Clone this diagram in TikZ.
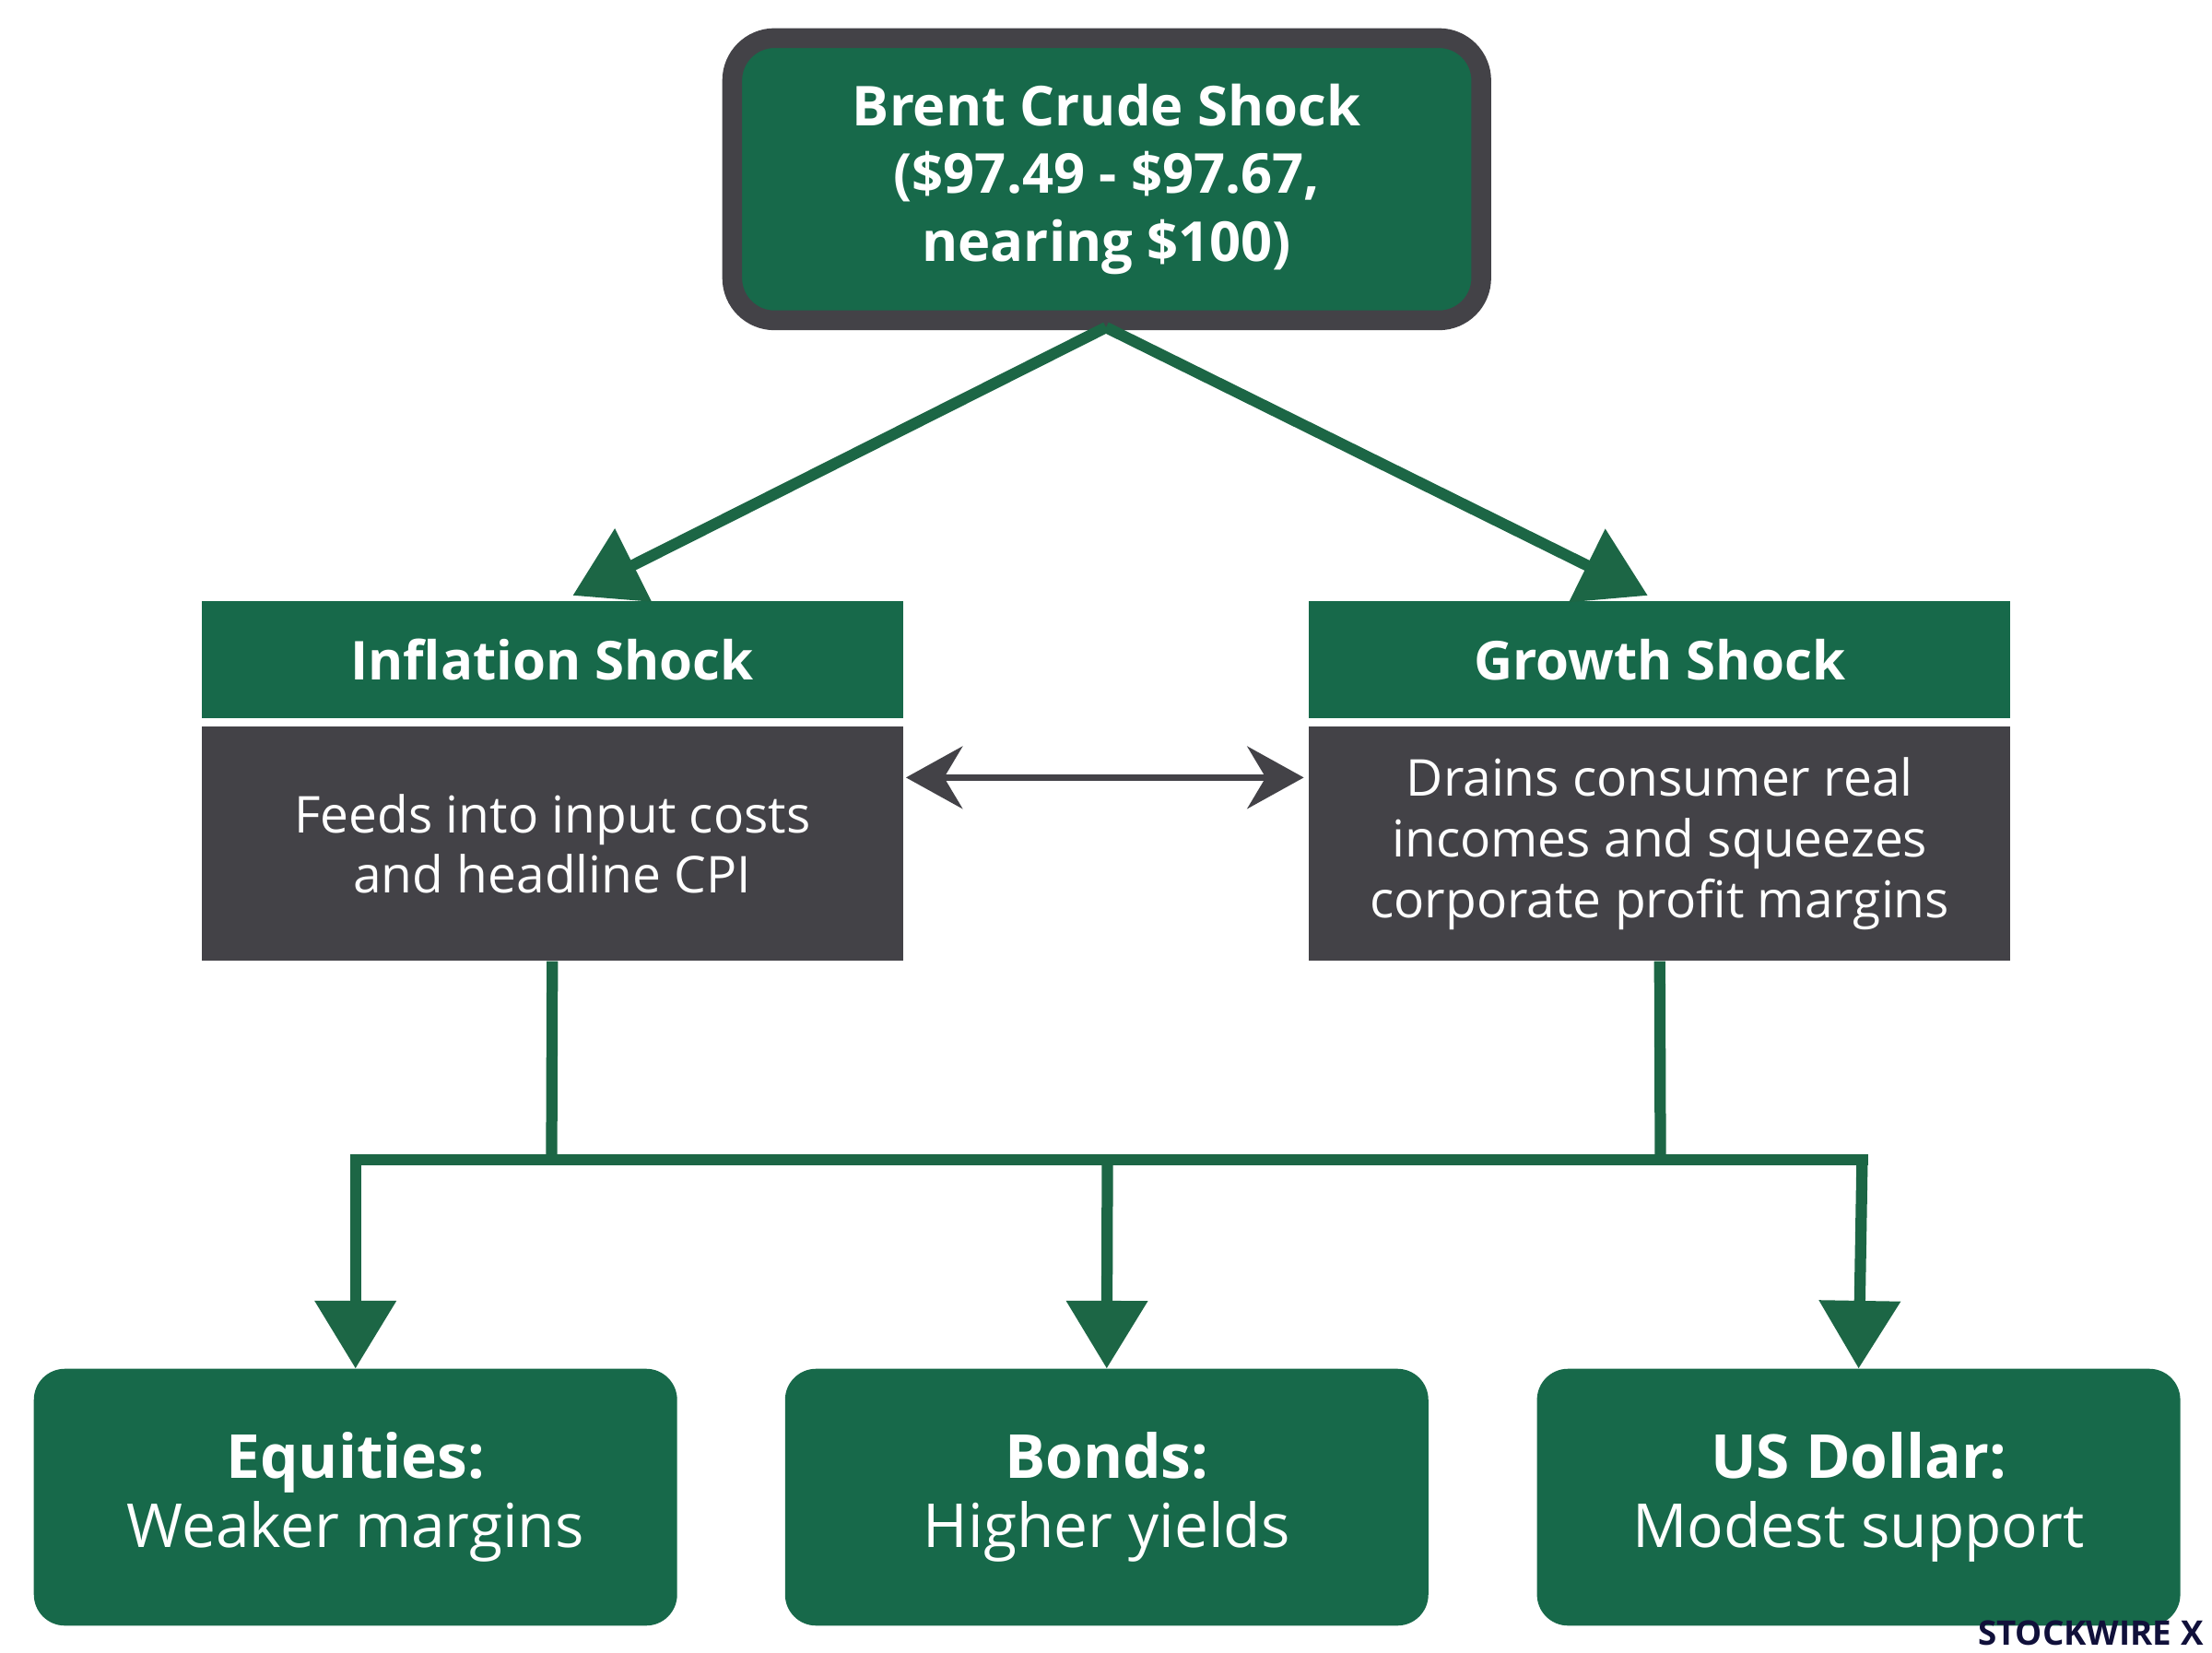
\documentclass[tikz,border=0pt]{standalone}
\usepackage{fontspec}
\setmainfont{Open Sans}
\usetikzlibrary{arrows.meta}
\definecolor{gr}{HTML}{17694A}
\definecolor{ag}{HTML}{1C6645}
\definecolor{dg}{HTML}{434247}
\begin{document}
\begin{tikzpicture}[x=1pt,y=-1pt,
 hdr/.style={fill=gr,text=white,font=\fontsize{38}{44}\selectfont\bfseries,align=center,inner sep=0},
 body/.style={fill=dg,text=white,font=\fontsize{36}{43}\selectfont,align=center,inner sep=0},
 bot/.style={fill=gr,rounded corners=22pt,text=white,align=center,inner sep=0,font=\fontsize{43}{51}\selectfont},
 garr/.style={draw=ag,line width=8pt,-{Triangle[length=48pt,width=56pt]}},
 gl/.style={draw=ag,line width=8pt}]
\useasboundingbox[fill=white] (0,0) rectangle (1568,1171);
\node[draw=dg,line width=14pt,fill=gr,rounded corners=30pt,minimum width=531pt,minimum height=200pt,
 text=white,font=\fontsize{39}{48}\selectfont\bfseries,align=center,inner sep=0] (top) at (784.5,127)
 {Brent Crude Shock\\(\$97.49 - \$97.67,\\nearing \$100)};
\node[hdr,minimum width=497pt,minimum height=83pt] (ih) at (391.5,467.5) {Inflation Shock};
\node[body,minimum width=497pt,minimum height=166pt] (ib) at (391.5,598) {Feeds into input costs\\and headline CPI};
\node[hdr,minimum width=497pt,minimum height=83pt] (gh) at (1176.5,467.5) {Growth Shock};
\node[body,minimum width=497pt,minimum height=166pt] (gb) at (1176.5,598) {Drains consumer real\\incomes and squeezes\\corporate profit margins};
\node[bot,minimum width=456pt,minimum height=182pt] (eq) at (252,1061) {\textbf{Equities:}\\[-2pt]Weaker margins};
\node[bot,minimum width=456pt,minimum height=182pt] (bo) at (784.5,1061) {\textbf{Bonds:}\\[-2pt]Higher yields};
\node[bot,minimum width=456pt,minimum height=182pt] (us) at (1317.5,1061) {\textbf{US Dollar:}\\[-2pt]Modest support};
\coordinate (apex) at (784,232);
\draw[garr] (apex) -- (406,422);
\draw[garr] (apex) -- (1168,422);
\draw[dg,line width=5pt,{Stealth[length=40pt,width=44pt]}-{Stealth[length=40pt,width=44pt]}] (ib.east) ++(2,-47) -- ++(282,0) coordinate (dd);
\coordinate (j1) at (391,822); \coordinate (j2) at (1177,822);
\draw[gl] (ib.south) -- (j1);
\draw[gl] (gb.south) -- (j2);
\draw[gl] (248,822) -- (1324,822);
\draw[garr] (252,822) -- (eq.north);
\draw[garr] (785,822) -- (bo.north);
\draw[garr] (1320,822) -- (us.north);
\node[anchor=east,font=\fontsize{24}{25}\selectfont\bfseries,text=dg!60!blue!40!black,inner sep=0] (wm) at (1562,1157) {STOCKWIRE X};
\end{tikzpicture}
\end{document}
